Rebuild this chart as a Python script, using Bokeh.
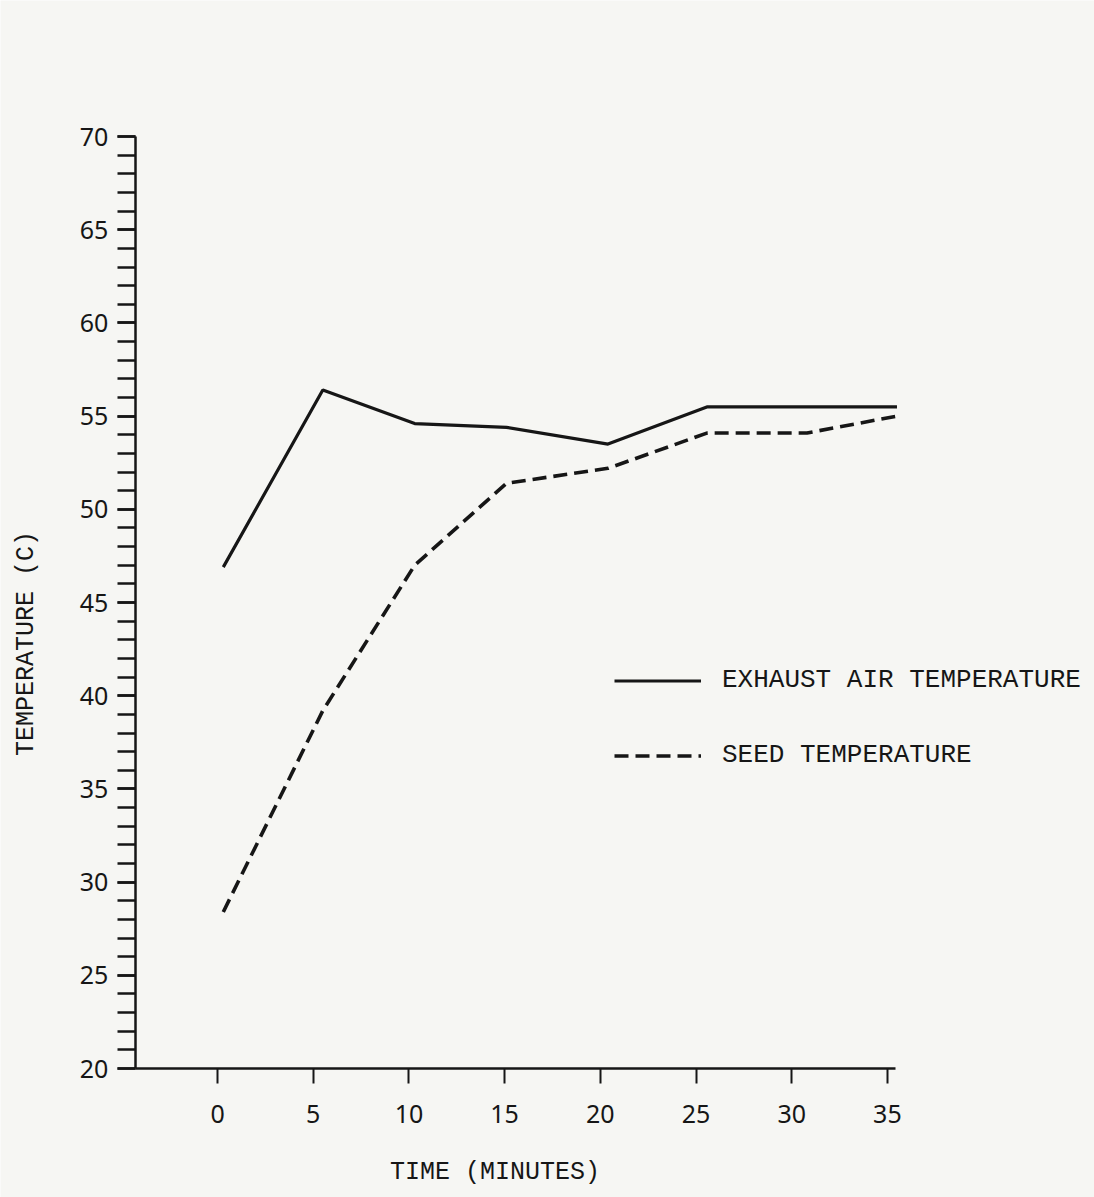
from bokeh.plotting import figure
from bokeh.models import Range1d, FixedTicker, Label, Legend, LegendItem
from bokeh.embed import file_html
from bokeh.resources import INLINE

# ---- data ----
time_min = [0.3, 5.5, 10.3, 15.1, 20.4, 25.6, 30.8, 35.5]
exhaust_air_temp = [46.9, 56.4, 54.6, 54.4, 53.5, 55.5, 55.5, 55.5]
seed_temp = [28.4, 39.2, 47.0, 51.4, 52.2, 54.1, 54.1, 55.0]

x_ticks = [0, 5, 10, 15, 20, 25, 30, 35]
y_ticks = [20, 25, 30, 35, 40, 45, 50, 55, 60, 65, 70]
y_minor_ticks = list(range(20, 71))

x_title = "TIME (MINUTES)"
y_title = "TEMPERATURE (C)"
series_names = ["EXHAUST AIR TEMPERATURE", "SEED TEMPERATURE"]

BG = "#f6f6f3"
INK = "#161616"
MONO = "Liberation Mono"
SANS = "Noto Sans"

W, H = 1094, 1197
p = figure(
    width=W, height=H,
    min_border=0,
    x_range=Range1d(-11.34, 45.82), y_range=Range1d(13.08, 77.30),
    output_backend="svg", toolbar_location=None,
    background_fill_color=BG, border_fill_color=BG,
)
p.outline_line_color = None
p.xgrid.visible = False
p.ygrid.visible = False

# x axis, drawn at T = 20 and only over the time span
xa = p.xaxis[0]
xa.fixed_location = 20
xa.bounds = (-4.3, 35.4)
xa.ticker = FixedTicker(ticks=x_ticks)
xa.axis_line_width = 2.5
xa.axis_line_color = INK
xa.major_tick_in = 0
xa.major_tick_out = 15
xa.major_tick_line_width = 2
xa.major_tick_line_color = INK
xa.minor_tick_out = 0
xa.minor_tick_in = 0
xa.major_label_text_font = SANS
xa.major_label_text_font_size = "25px"
xa.major_label_text_color = INK
xa.major_label_standoff = 21

# y axis, drawn at the left end of the time axis
ya = p.yaxis[0]
ya.fixed_location = -4.3
ya.bounds = (20, 70)
ya.ticker = FixedTicker(ticks=y_ticks, minor_ticks=y_minor_ticks)
ya.axis_line_width = 2.5
ya.axis_line_color = INK
ya.major_tick_in = 0
ya.major_tick_out = 18
ya.minor_tick_in = 0
ya.minor_tick_out = 18
ya.major_tick_line_width = 2.5
ya.minor_tick_line_width = 2.5
ya.major_tick_line_color = INK
ya.minor_tick_line_color = INK
ya.major_label_text_font = SANS
ya.major_label_text_font_size = "25px"
ya.major_label_text_color = INK
ya.major_label_standoff = 9

# series
r1 = p.line(time_min, exhaust_air_temp, line_color=INK, line_width=3.2)
r2 = p.line(time_min, seed_temp, line_color=INK, line_width=3.6, line_dash="14 7")

legend = Legend(
    items=[LegendItem(label=series_names[0], renderers=[r1]),
           LegendItem(label=series_names[1], renderers=[r2])],
    location=(614, 427),
    orientation="vertical",
    glyph_width=87, glyph_height=29, label_height=29,
    label_standoff=21, spacing=45, padding=0, margin=0,
    label_text_font=MONO, label_text_font_size="26px",
    label_text_color=INK, label_text_baseline="middle",
    border_line_color=None, background_fill_alpha=0,
)
p.add_layout(legend, "center")

# axis titles
p.add_layout(Label(x=14.5, y=14.4, text=x_title, text_font=MONO,
                   text_font_size="25px", text_color=INK,
                   text_align="center", text_baseline="middle"))
p.add_layout(Label(x=-10.0, y=42.8, text=y_title, text_font=MONO,
                   text_font_size="25px", text_color=INK, angle=1.5707963,
                   text_align="center", text_baseline="middle"))

open("out.html", "w").write(file_html(p, INLINE))
